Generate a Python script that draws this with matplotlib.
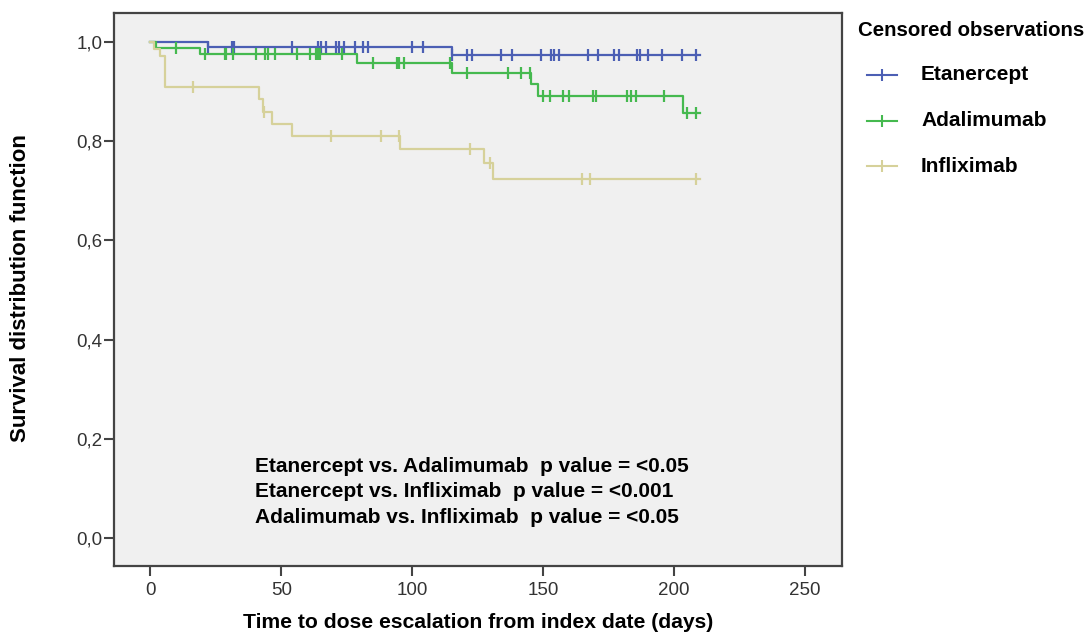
import numpy as np
import matplotlib
matplotlib.use("Agg")
import matplotlib.pyplot as plt
from matplotlib.lines import Line2D
from matplotlib.ticker import FuncFormatter

plt.rcParams['font.family'] = ['Liberation Sans', 'DejaVu Sans']

# step curves: time (days) where survival changes, survival level after that time
eta_t = [0, 22, 115, 210]
eta_s = [1.0, 0.989, 0.973, 0.973]
ada_t = [0, 2, 19, 79, 115, 145.5, 148, 203.5, 210]
ada_s = [1.0, 0.988, 0.976, 0.956, 0.936, 0.915, 0.891, 0.857, 0.857]
inf_t = [0, 1.5, 3.5, 5.5, 41.5, 43.0, 46.6, 54, 95.5, 127.4, 131, 210]
inf_s = [1.0, 0.985, 0.97, 0.909, 0.884, 0.859, 0.835, 0.810, 0.783, 0.756, 0.723, 0.723]

# censored observations (days)
eta_c = [22, 31, 32, 54, 64, 65, 67, 71, 72, 74, 78, 81, 83, 100, 104, 115, 121, 123,
         134, 138, 149, 153, 154, 156, 167, 171, 177, 179, 186, 187, 190, 195.5, 203, 208.5]
ada_c = [9.7, 20.8, 28.4, 29, 31.6, 40.5, 43.7, 45, 47.5, 55.8, 60.9, 63.4, 64, 64.7, 73,
         85, 94, 95, 97, 114.5, 121, 136.6, 141.7, 145, 150, 152.5, 157.6, 160, 169, 170,
         182, 183.6, 185.6, 196, 205, 208.5]
inf_c = [16.3, 43.4, 69, 88, 95, 122, 129.6, 165, 168, 208.5]

groups = ["Etanercept", "Adalimumab", "Infliximab"]
colors = ["#4c5fb4", "#45b94f", "#d6d19a"]
pvals = ["Etanercept vs. Adalimumab  p value = <0.05",
         "Etanercept vs. Infliximab  p value = <0.001",
         "Adalimumab vs. Infliximab  p value = <0.05"]

fig = plt.figure(figsize=(10.87, 6.33), dpi=100)
ax = fig.add_axes([0.1049, 0.1058, 0.6694, 0.8732])
ax.set_facecolor("#f0f0f0")

curves = [(eta_t, eta_s, eta_c), (ada_t, ada_s, ada_c), (inf_t, inf_s, inf_c)]
for (t, s, c), col in zip(curves, colors):
    t = np.array(t)
    s = np.array(s)
    ax.step(t, s, where="post", color=col, lw=1.6, zorder=3)
    cy = s[np.searchsorted(t, c, side="right") - 1]
    ax.plot(c, cy, ls="none", marker="|", ms=8, mew=1.6, color=col, zorder=4)

ax.set_xlim(-13.9, 264)
ax.set_ylim(-0.056, 1.057)
ax.set_xticks([0, 50, 100, 150, 200, 250])
ax.set_yticks([0, 0.2, 0.4, 0.6, 0.8, 1.0])
ax.yaxis.set_major_formatter(FuncFormatter(lambda v, _: f"{v:.1f}".replace(".", ",")))
ax.tick_params(direction="out", length=7.5, width=1.5, color="#444444",
               labelsize=13.5, labelcolor="#333333")
ax.tick_params(axis="y", pad=1)
ax.tick_params(axis="x", pad=4)
for sp in ax.spines.values():
    sp.set_color("#444444")
    sp.set_linewidth(1.6)

for i, txt in enumerate(pvals):
    ax.text(40, 0.145 - i * 0.0515, txt, fontsize=15, fontweight="bold",
            va="center", ha="left", color="black")

fig.text(0.44, 0.016, "Time to dose escalation from index date (days)",
         fontsize=15.2, fontweight="bold", ha="center", va="center")
fig.text(0.0184, 0.545, "Survival distribution function", rotation=90,
         fontsize=16, fontweight="bold", ha="center", va="center")

# legend drawn by hand to sit in the right margin
fig.text(858 / 1087, 1 - 30 / 633, "Censored observations", fontsize=14.7,
         fontweight="bold", ha="left", va="center")
for i, (name, col) in enumerate(zip(groups, colors)):
    yy = 1 - (75 + i * 45.5) / 633
    fig.add_artist(Line2D([867 / 1087, 897 / 1087], [yy, yy], color=col, lw=1.5,
                          transform=fig.transFigure))
    fig.add_artist(Line2D([882 / 1087], [yy], color=col, marker="|", ms=9, mew=1.5,
                          transform=fig.transFigure))
    fig.text(921 / 1087, yy, name, fontsize=15, fontweight="bold",
             ha="left", va="center")

fig.savefig("out.png", dpi=100)
